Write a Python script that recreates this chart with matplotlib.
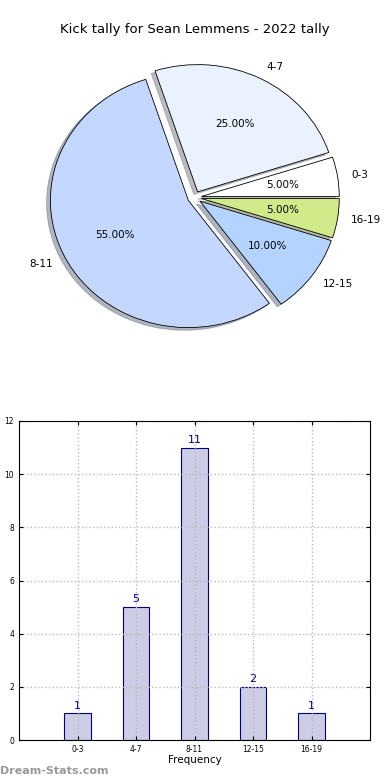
import numpy as np
import matplotlib
matplotlib.use("Agg")
import matplotlib.pyplot as plt

# data
groups = ["0-3", "4-7", "8-11", "12-15", "16-19"]
counts = [1, 5, 11, 2, 1]
pie_colors = ["#ffffff", "#eaf1ff", "#c4d8ff", "#b4d4ff", "#d0ea8a"]

fig = plt.figure(figsize=[3.9, 7.8], dpi=100)

# pie chart (slightly squashed like the original)
ax1 = fig.add_axes([40 / 390, 440 / 780, 309 / 390, 285 / 780])
ax1.pie(counts, labels=groups, colors=pie_colors, explode=[0.05] * 5,
        autopct="%.2f%%", shadow={"ox": -0.02, "oy": -0.015, "shade": 0.5},
        startangle=0,
        wedgeprops={"edgecolor": "black", "linewidth": 0.6},
        textprops={"fontsize": 7.5})
ax1.set_aspect("auto")
ax1.set_xlim(-1.12, 1.12)
ax1.set_ylim(-1.12, 1.12)
fig.text(0.5, 750 / 780, "Kick tally for Sean Lemmens - 2022 tally",
         ha="center", va="center", fontsize=9.5)

# bar chart
ax2 = fig.add_axes([19 / 390, 40 / 780, 351 / 390, 319 / 780])
x = np.arange(1, len(groups) + 1)
ax2.bar(x, counts, width=0.45, color="#cccce5",
        edgecolor="navy", linewidth=0.8)
for xi, c in zip(x, counts):
    ax2.text(xi, c + 0.1, str(c), ha="center", va="bottom", color="navy", fontsize=8)
ax2.set_xlim(0, 6)
ax2.set_ylim(0, 12)
ax2.set_xticks(x)
ax2.set_xticklabels(groups)
ax2.set_yticks(range(0, 13, 2))
ax2.tick_params(labelsize=5.5, length=3, direction="in", top=True, right=True)
ax2.grid(True, linestyle=":", color="#bbbbbb", linewidth=1)
ax2.set_axisbelow(False)
for s in ax2.spines.values():
    s.set_zorder(5)
ax2.set_xlabel("Frequency", fontsize=7.5, labelpad=1)
ax2.set_ylabel("Number of Games", fontsize=7.5, labelpad=6)

fig.text(0.0, 9 / 780, "Dream-Stats.com", fontsize=8, color="#999999",
         fontweight="bold", ha="left", va="center")

fig.savefig("out.png", dpi=100)
